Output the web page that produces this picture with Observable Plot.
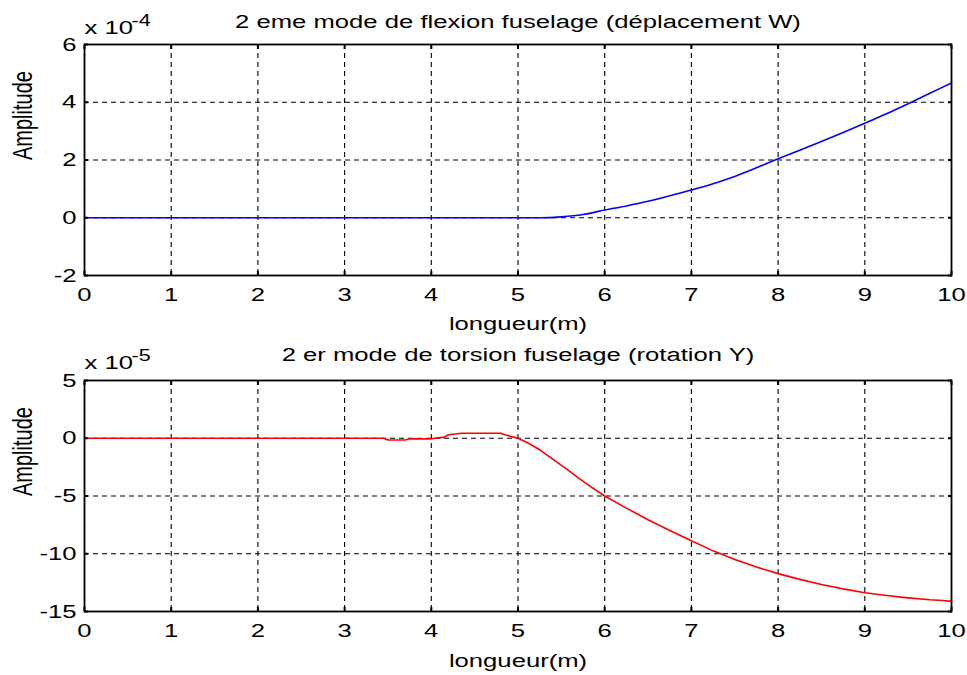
<!DOCTYPE html>
<html>
<head>
<meta charset="utf-8">
<script src="https://cdn.jsdelivr.net/npm/d3@7"></script>
<script src="https://cdn.jsdelivr.net/npm/@observablehq/plot@0.6"></script>
<style>
  html, body { margin: 0; padding: 0; background: #fff; }
  #chart { width: 967px; height: 675px; position: relative; }
  #chart svg { display: block; }
</style>
</head>
<body>
<div id="chart"></div>
<script>
// ---- data ----
const xTicks = [0, 1, 2, 3, 4, 5, 6, 7, 8, 9, 10];

const topTitle = "2 eme mode de flexion fuselage (déplacement W)";
const topExponent = "-4";
const topYTicks = [-2, 0, 2, 4, 6];
const topX = [0, 1, 2, 3, 4, 5, 5.25, 5.5, 5.75, 6, 6.25, 6.5, 6.75, 7, 7.25, 7.5, 7.75, 8, 8.25, 8.5, 8.75, 9, 9.25, 9.5, 9.75, 10];
const topY = [0, 0, 0, 0, 0, 0, 0, 0.03, 0.11, 0.27, 0.41, 0.57, 0.76, 0.96, 1.18, 1.43, 1.73, 2.04, 2.34, 2.64, 2.95, 3.27, 3.6, 3.95, 4.31, 4.67];

const botTitle = "2 er mode de torsion fuselage (rotation Y)";
const botExponent = "-5";
const botYTicks = [-15, -10, -5, 0, 5];
const botX = [0, 1, 2, 3, 3.45, 3.5, 3.7, 3.75, 4, 4.15, 4.2, 4.35, 4.8, 4.85, 5, 5.1, 5.25, 5.4, 5.55, 5.7, 5.85, 6, 6.25, 6.5, 6.75, 7, 7.25, 7.5, 7.75, 8, 8.25, 8.5, 8.75, 9, 9.25, 9.5, 9.75, 9.9, 10];
const botY = [0, 0, 0, 0, 0, -0.15, -0.15, -0.05, -0.05, 0.1, 0.3, 0.43, 0.43, 0.3, 0, -0.35, -1.0, -1.8, -2.6, -3.45, -4.25, -5.0, -6.05, -7.05, -7.98, -8.88, -9.75, -10.5, -11.15, -11.72, -12.22, -12.66, -13.04, -13.37, -13.62, -13.82, -13.98, -14.05, -14.12];

const xLabel = "longueur(m)";
const yLabel = "Amplitude";

// ---- drawing ----
const FONT = "'Liberation Sans', Arial, Helvetica, sans-serif";
const STRETCH = 1.35;
const fmt = d => String(d);

function panel({xs, ys, yTicks, title, exponent, color, curve, height, marginTop, marginBottom, titleDy, expDy, supDy, xlabDy}) {
  const data = xs.map((x, i) => ({x, y: ys[i]}));
  const yDomain = [yTicks[0], yTicks[yTicks.length - 1]];
  return Plot.plot({
    width: 967,
    height,
    marginLeft: 84,
    marginRight: 16,
    marginTop,
    marginBottom,
    style: {fontFamily: FONT, fontSize: "19px", color: "black", background: "white", overflow: "visible"},
    x: {domain: [0, 10], ticks: xTicks},
    y: {domain: yDomain, ticks: yTicks},
    marks: [
      Plot.gridX(xTicks, {stroke: "black", strokeOpacity: 1, strokeWidth: 1.1, strokeDasharray: "5,4"}),
      Plot.gridY(yTicks, {stroke: "black", strokeOpacity: 1, strokeWidth: 1.1, strokeDasharray: "5,4"}),
      Plot.line(data, {x: "x", y: "y", stroke: color, strokeWidth: 1.6, curve}),
      Plot.frame({stroke: "black", strokeWidth: 1.8}),
      // inward tick marks on all four sides
      Plot.axisX(xTicks, {anchor: "bottom", tickSize: -4, tickFormat: () => "", label: null, strokeWidth: 2}),
      Plot.axisX(xTicks, {anchor: "top", tickSize: -4, tickFormat: () => "", label: null, strokeWidth: 2}),
      Plot.axisY(yTicks, {anchor: "left", tickSize: -4, tickFormat: () => "", label: null, strokeWidth: 2}),
      Plot.axisY(yTicks, {anchor: "right", tickSize: -4, tickFormat: () => "", label: null, strokeWidth: 2}),
      // tick labels
      Plot.axisX(xTicks, {anchor: "bottom", tickSize: 0, tickPadding: 12, tickFormat: fmt, label: null, fontSize: 19}),
      Plot.axisY(yTicks, {anchor: "left", tickSize: 0, tickPadding: 8, tickFormat: fmt, label: null, fontSize: 19}),
      // titles and labels
      Plot.text([title], {text: d => d, frameAnchor: "top", dy: titleDy, lineAnchor: "bottom", fontSize: 19, fill: "black"}),
      Plot.text(["x 10"], {text: d => d, frameAnchor: "top-left", textAnchor: "start", dy: expDy, lineAnchor: "bottom", fontSize: 19, fill: "black"}),
      Plot.text([exponent], {text: d => d, frameAnchor: "top-left", textAnchor: "start", dx: 47, dy: supDy, lineAnchor: "bottom", fontSize: 16, fill: "black"}),
      Plot.text([xLabel], {text: d => d, frameAnchor: "bottom", dy: xlabDy, lineAnchor: "bottom", fontSize: 19, fill: "black"}),
      Plot.text([yLabel], {text: d => d, frameAnchor: "left", dx: -61, rotate: -90, lineAnchor: "middle", fontSize: 20, fill: "black"})
    ]
  });
}

// widen every text horizontally (the reference figure is stretched sideways)
function stretchTexts(svg, s) {
  svg.querySelectorAll("text").forEach(t => {
    const r = t.getBoundingClientRect();
    if (!r.width) return;
    const anchor = getComputedStyle(t).textAnchor;
    const rotated = (t.getAttribute("transform") || "").includes("rotate");
    const sx = rotated || anchor === "middle" ? r.left + r.width / 2 : anchor === "end" ? r.right : r.left;
    const parent = t.parentNode;
    const pt = svg.createSVGPoint();
    pt.x = sx; pt.y = r.top;
    const lp = pt.matrixTransform(parent.getScreenCTM().inverse());
    const old = t.getAttribute("transform") || "";
    t.setAttribute("transform", `translate(${lp.x},0) scale(${s},1) translate(${-lp.x},0) ${old}`);
  });
}

const chartEl = document.getElementById("chart");

const topPanel = panel({
  xs: topX, ys: topY, yTicks: topYTicks, title: topTitle, exponent: topExponent, color: "#0000ff", curve: "monotone-x",
  height: 337, marginTop: 44, marginBottom: 62, titleDy: -17, expDy: -11, supDy: -19, xlabDy: 54
});
chartEl.appendChild(topPanel);

const botPanel = panel({
  xs: botX, ys: botY, yTicks: botYTicks, title: botTitle, exponent: botExponent, color: "#ff0000", curve: "linear",
  height: 338, marginTop: 43, marginBottom: 64, titleDy: -20, expDy: -12, supDy: -20, xlabDy: 55
});
chartEl.appendChild(botPanel);

stretchTexts(topPanel, STRETCH);
stretchTexts(botPanel, STRETCH);
</script>
</body>
</html>
